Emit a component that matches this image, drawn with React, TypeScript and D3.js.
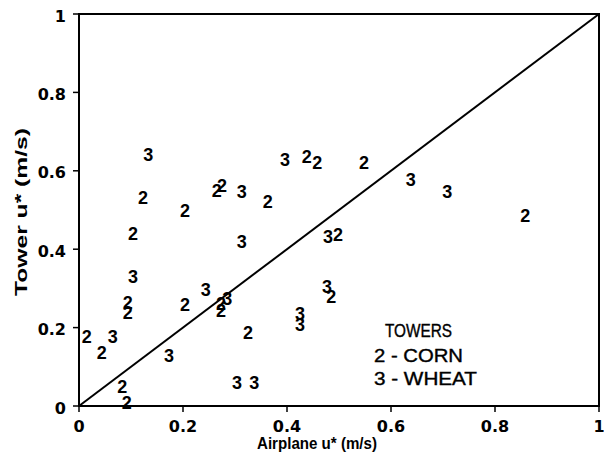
import React from "react";
import * as d3 from "d3";

const xTicks = [0, 0.2, 0.4, 0.6, 0.8, 1];
const yTicks = [0, 0.2, 0.4, 0.6, 0.8, 1];
const xTickLabels = ["0", "0.2", "0.4", "0.6", "0.8", "1"];
const yTickLabels = ["0", "0.2", "0.4", "0.6", "0.8", "1"];

// Corn towers (symbol "2"): [airplane u*, tower u*]
const cornX = [0.123, 0.204, 0.104, 0.265, 0.275, 0.363, 0.438, 0.458, 0.548, 0.858, 0.498, 0.094, 0.094, 0.015, 0.044, 0.204, 0.273, 0.273, 0.083, 0.092, 0.325, 0.485];
const cornY = [0.531, 0.497, 0.439, 0.548, 0.561, 0.520, 0.635, 0.620, 0.620, 0.485, 0.436, 0.263, 0.237, 0.176, 0.135, 0.258, 0.260, 0.242, 0.048, 0.008, 0.186, 0.278];

// Wheat towers (symbol "3")
const wheatX = [0.133, 0.313, 0.313, 0.396, 0.638, 0.708, 0.479, 0.104, 0.065, 0.244, 0.285, 0.173, 0.304, 0.337, 0.425, 0.425, 0.477];
const wheatY = [0.640, 0.546, 0.418, 0.628, 0.577, 0.546, 0.431, 0.329, 0.176, 0.296, 0.273, 0.128, 0.059, 0.059, 0.235, 0.207, 0.304];

const legendTitle = "TOWERS";
const legendItems = ["2 - CORN", "3 - WHEAT"];
const xTitle = "Airplane u* (m/s)";
const yTitle = "Tower u* (m/s)";

export default function App() {
  const W = 604, H = 463;
  const x = d3.scaleLinear().domain([0, 1]).range([79, 599]);
  const y = d3.scaleLinear().domain([0, 1]).range([406, 14]);
  const tickFont = "'DejaVu Sans', sans-serif";
  const markFont = "'Liberation Sans', Arial, sans-serif";
  const diag = d3.line<[number, number]>().x(d => x(d[0])).y(d => y(d[1]))([[0, 0], [1, 1]]) || "";

  const corn = cornX.map((v, i) => [v, cornY[i]]);
  const wheat = wheatX.map((v, i) => [v, wheatY[i]]);

  return (
    <svg width={W} height={H} style={{ position: "absolute", left: 0, top: 0, background: "#fff" }}>
      <rect x={0} y={0} width={W} height={H} fill="#fff" />
      {/* frame */}
      <rect x={x(0)} y={y(1)} width={x(1) - x(0)} height={y(0) - y(1)} fill="none" stroke="#000" strokeWidth={2} />
      {/* ticks */}
      {xTicks.map((t, i) => (
        <g key={"xt" + i}>
          <line x1={x(t)} x2={x(t)} y1={y(0)} y2={y(0) + 6} stroke="#000" strokeWidth={1.5} />
          <text x={x(t)} y={426} textAnchor="middle" dominantBaseline="central" fontFamily={tickFont} fontWeight="bold" fontSize={16}>{xTickLabels[i]}</text>
        </g>
      ))}
      {yTicks.map((t, i) => (
        <g key={"yt" + i}>
          <line x1={x(0) - 6} x2={x(0)} y1={y(t)} y2={y(t)} stroke="#000" strokeWidth={1.5} />
          <text x={66} y={y(t) + 2} textAnchor="end" dominantBaseline="central" fontFamily={tickFont} fontWeight="bold" fontSize={16}>{yTickLabels[i]}</text>
        </g>
      ))}
      {/* diagonal 1:1 line */}
      <path d={diag} stroke="#000" strokeWidth={2} fill="none" />
      {/* data */}
      {corn.map((d, i) => (
        <text key={"c" + i} x={x(d[0])} y={y(d[1])} textAnchor="middle" dominantBaseline="central" fontFamily={markFont} fontWeight="bold" fontSize={18}>2</text>
      ))}
      {wheat.map((d, i) => (
        <text key={"w" + i} x={x(d[0])} y={y(d[1])} textAnchor="middle" dominantBaseline="central" fontFamily={markFont} fontWeight="bold" fontSize={18}>3</text>
      ))}
      {/* legend */}
      <g stroke="#000" strokeWidth={0.4}>
        <text x={385} y={330} dominantBaseline="central" fontFamily={markFont} fontSize={19} textLength={67} lengthAdjust="spacingAndGlyphs">{legendTitle}</text>
        <text x={374} y={355} dominantBaseline="central" fontFamily={markFont} fontSize={19} textLength={89} lengthAdjust="spacingAndGlyphs">{legendItems[0]}</text>
        <text x={374} y={378} dominantBaseline="central" fontFamily={markFont} fontSize={19} textLength={103} lengthAdjust="spacingAndGlyphs">{legendItems[1]}</text>
      </g>
      {/* axis titles */}
      <text x={317} y={443} textAnchor="middle" dominantBaseline="central" fontFamily={markFont} fontWeight="bold" fontSize={17} textLength={120} lengthAdjust="spacingAndGlyphs">{xTitle}</text>
      <text transform={`translate(21,212) rotate(-90)`} textAnchor="middle" dominantBaseline="central" fontFamily={markFont} fontWeight="bold" fontSize={17} textLength={168} lengthAdjust="spacingAndGlyphs">{yTitle}</text>
    </svg>
  );
}
